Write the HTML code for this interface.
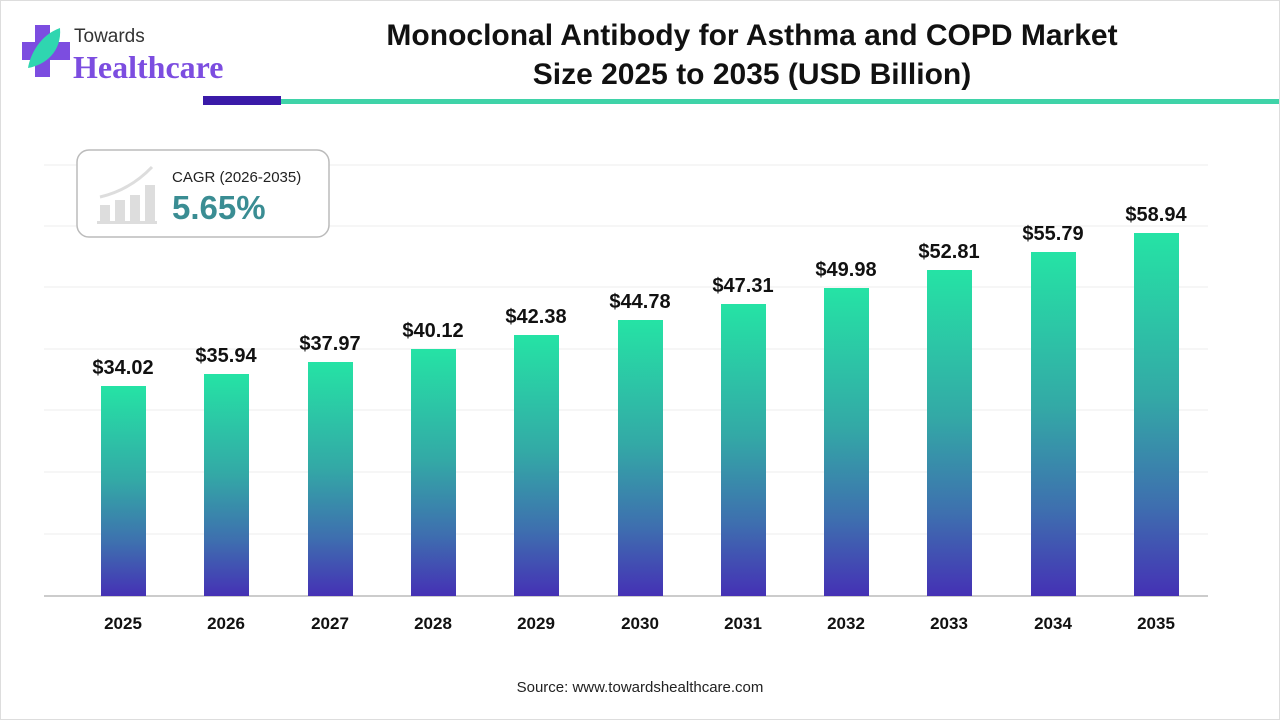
<!DOCTYPE html>
<html><head><meta charset="utf-8"><style>
body{margin:0;width:1280px;height:720px;background:#fff;overflow:hidden;font-family:"Liberation Sans",sans-serif;}
</style></head><body>
<svg width="1280" height="720" xmlns="http://www.w3.org/2000/svg">
<defs>
<linearGradient id="g" x1="0" y1="0" x2="0" y2="1">
<stop offset="0" stop-color="#25e3a5"/><stop offset="0.45" stop-color="#33a9a6"/><stop offset="0.75" stop-color="#3e6faf"/><stop offset="1" stop-color="#4531b5"/>
</linearGradient>
</defs>
<rect x="0.5" y="0.5" width="1279" height="719" fill="#fff" stroke="#ddd"/>
<!-- logo -->
<rect x="35" y="25" width="15" height="52" fill="#7c4de0"/>
<rect x="22" y="42" width="48" height="18" fill="#7c4de0"/>
<path d="M60 28 C40 35 30 55 28 68 C45 65 62 52 60 28Z" fill="#2fd6b0"/>
<text x="74" y="42" font-size="19" fill="#333">Towards</text>
<text x="73" y="78" font-size="32" font-weight="bold" fill="#7c4de0" font-family="Liberation Serif,serif">Healthcare</text>
<rect x="203" y="96" width="78" height="9" fill="#3a1aa8"/>
<rect x="281" y="99" width="998" height="5" fill="#3fd3a8"/>
<text x="752" y="45" font-size="30" font-weight="bold" text-anchor="middle" fill="#111">Monoclonal Antibody for Asthma and COPD Market</text>
<text x="752" y="84" font-size="30" font-weight="bold" text-anchor="middle" fill="#111">Size 2025 to 2035 (USD Billion)</text>
<!-- grid -->
<g stroke="#ececec" stroke-width="1">
<line x1="44" x2="1208" y1="165" y2="165"/><line x1="44" x2="1208" y1="226" y2="226"/>
<line x1="44" x2="1208" y1="287" y2="287"/><line x1="44" x2="1208" y1="349" y2="349"/>
<line x1="44" x2="1208" y1="410" y2="410"/><line x1="44" x2="1208" y1="472" y2="472"/>
<line x1="44" x2="1208" y1="534" y2="534"/>
</g>
<line x1="44" x2="1208" y1="596" y2="596" stroke="#bbb" stroke-width="1.5"/>
<!-- CAGR box -->
<rect x="77" y="150" width="252" height="87" rx="12" fill="#fff" stroke="#bbb" stroke-width="1.5"/>
<g fill="#ddd"><rect x="100" y="205" width="10" height="17"/><rect x="115" y="200" width="10" height="22"/><rect x="130" y="195" width="10" height="27"/><rect x="145" y="185" width="10" height="37"/><rect x="97" y="221" width="60" height="3"/></g>
<path d="M100 197 Q130 190 152 167" stroke="#ddd" stroke-width="3" fill="none"/>
<text x="172" y="182" font-size="15" fill="#222">CAGR (2026-2035)</text>
<text x="172" y="219" font-size="33" font-weight="bold" fill="#3a8d93">5.65%</text>
<!-- bars -->
<g fill="url(#g)">
<rect x="101" y="386" width="45" height="210"/>
<rect x="204" y="374" width="45" height="222"/>
<rect x="308" y="362" width="45" height="234"/>
<rect x="411" y="349" width="45" height="247"/>
<rect x="514" y="335" width="45" height="261"/>
<rect x="618" y="320" width="45" height="276"/>
<rect x="721" y="304" width="45" height="292"/>
<rect x="824" y="288" width="45" height="308"/>
<rect x="927" y="270" width="45" height="326"/>
<rect x="1031" y="252" width="45" height="344"/>
<rect x="1134" y="233" width="45" height="363"/>
</g>
<g font-size="20" font-weight="bold" fill="#111" text-anchor="middle">
<text x="123" y="374">$34.02</text><text x="226" y="362">$35.94</text><text x="330" y="350">$37.97</text>
<text x="433" y="337">$40.12</text><text x="536" y="323">$42.38</text><text x="640" y="308">$44.78</text>
<text x="743" y="292">$47.31</text><text x="846" y="276">$49.98</text><text x="949" y="258">$52.81</text>
<text x="1053" y="240">$55.79</text><text x="1156" y="221">$58.94</text>
</g>
<g font-size="17" font-weight="bold" fill="#111" text-anchor="middle">
<text x="123" y="629">2025</text><text x="226" y="629">2026</text><text x="330" y="629">2027</text>
<text x="433" y="629">2028</text><text x="536" y="629">2029</text><text x="640" y="629">2030</text>
<text x="743" y="629">2031</text><text x="846" y="629">2032</text><text x="949" y="629">2033</text>
<text x="1053" y="629">2034</text><text x="1156" y="629">2035</text>
</g>
<text x="640" y="692" font-size="15" text-anchor="middle" fill="#222">Source: www.towardshealthcare.com</text>
</svg>
</body></html>
